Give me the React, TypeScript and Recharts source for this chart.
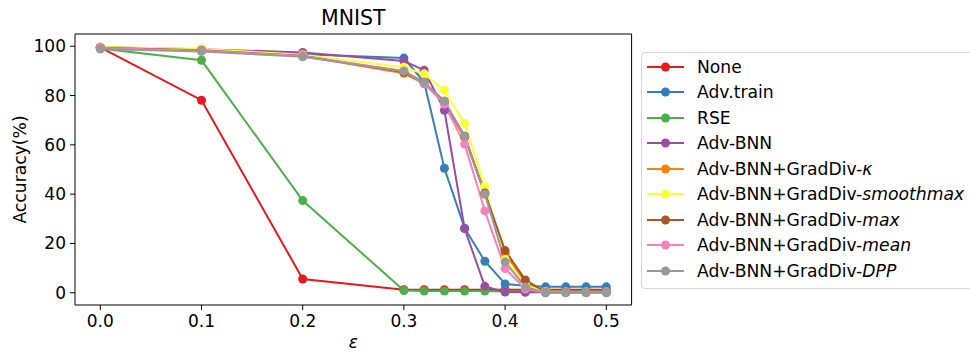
import { Line, LineChart, ReferenceLine, XAxis, YAxis } from 'recharts'

// perturbation budgets on the x axis
const eps = [0, 0.1, 0.2, 0.3, 0.32, 0.34, 0.36, 0.38, 0.4, 0.42, 0.44, 0.46, 0.48, 0.5]

// accuracy (%) per defence, one value per epsilon
const none = [99.5, 78.1, 5.6, 1.2, 1.2, 1.2, 1.2, 1.2, 1.2, 1.2, 1.2, 1.2, 1.2, 1.2]
const advTrain = [99.6, 98.6, 96.8, 95.2, 85.5, 50.5, 26.2, 12.8, 3.6, 2.8, 2.4, 2.4, 2.4, 2.4]
const rse = [99.1, 94.3, 37.4, 0.9, 0.7, 0.7, 0.7, 0.7, 0.5, 0.5, 0.5, 0.5, 0.5, 0.5]
const advBnn = [99.6, 98.8, 97.5, 94.0, 90.3, 74.0, 26.0, 2.6, 0.3, 0.2, 0.2, 0.2, 0.2, 0.2]
const gdKappa = [99.5, 98.5, 96.0, 89.0, 84.8, 77.0, 63.0, 40.0, 16.0, 4.3, 0.5, 0.3, 0.3, 0.3]
const gdSmoothmax = [99.7, 98.9, 96.6, 91.5, 88.8, 82.1, 68.7, 43.0, 13.5, 3.0, 0.5, 0.3, 0.3, 0.3]
const gdMax = [99.4, 98.4, 96.1, 89.5, 85.3, 77.5, 63.5, 40.5, 17.1, 5.2, 0.3, 0.2, 0.2, 0.2]
const gdMean = [99.3, 98.2, 96.0, 90.0, 85.0, 76.5, 60.3, 33.2, 9.8, 1.5, 0.1, 0.1, 0.1, 0.1]
const gdDpp = [98.9, 97.9, 95.7, 89.9, 85.5, 77.8, 63.5, 40.1, 12.5, 2.3, 0.0, 0.0, 0.0, 0.0]

const xTicks = [0, 0.1, 0.2, 0.3, 0.4, 0.5]
const yTicks = [0, 20, 40, 60, 80, 100]

const series = [
  { key: 'none', name: 'None', suffix: '', color: '#e41a1c', values: none },
  { key: 'advTrain', name: 'Adv.train', suffix: '', color: '#377eb8', values: advTrain },
  { key: 'rse', name: 'RSE', suffix: '', color: '#4daf4a', values: rse },
  { key: 'advBnn', name: 'Adv-BNN', suffix: '', color: '#984ea3', values: advBnn },
  { key: 'gdKappa', name: 'Adv-BNN+GradDiv-', suffix: 'κ', color: '#ff7f00', values: gdKappa },
  { key: 'gdSmoothmax', name: 'Adv-BNN+GradDiv-', suffix: 'smoothmax', color: '#ffff33', values: gdSmoothmax },
  { key: 'gdMax', name: 'Adv-BNN+GradDiv-', suffix: 'max', color: '#a65628', values: gdMax },
  { key: 'gdMean', name: 'Adv-BNN+GradDiv-', suffix: 'mean', color: '#f781bf', values: gdMean },
  { key: 'gdDpp', name: 'Adv-BNN+GradDiv-', suffix: 'DPP', color: '#999999', values: gdDpp },
]

const data = eps.map((e, i) => {
  const row: Record<string, number> = { eps: e }
  series.forEach((s) => { row[s.key] = s.values[i] })
  return row
})

const X_MIN = -0.025
const X_MAX = 0.525
const Y_MIN = -4.97
const Y_MAX = 104.97

const font = '"DejaVu Sans", sans-serif'
const tickStyle = { fill: '#000', fontSize: 17, fontFamily: font }

// matplotlib-style legend box, sits to the right of the axes
function LegendBox() {
  return (
    <div style={{ position: 'absolute', left: 641, top: 52, border: '1px solid #d6d6d6', borderRadius: 4, background: 'rgba(255,255,255,0.8)', padding: '1px 0 4px 5px', width: 340, fontFamily: font, fontSize: 17.2, color: '#000' }}>
      {series.map((s) => (
        <div key={s.key} style={{ display: 'flex', alignItems: 'center', height: 25.5 }}>
          <svg width={37} height={12} style={{ marginRight: 13 }}>
            <line x1={0} y1={6} x2={37} y2={6} stroke={s.color} strokeWidth={2} />
            <circle cx={18.5} cy={6} r={4.5} fill={s.color} />
          </svg>
          <span style={{ whiteSpace: 'nowrap' }}>
            {s.name}
            {s.suffix && <i>{s.suffix}</i>}
          </span>
        </div>
      ))}
    </div>
  )
}

export default function App() {
  return (
    <div style={{ position: 'absolute', left: 0, top: 0, width: 970, height: 352, overflow: 'hidden', background: '#fff' }}>
      <div style={{ position: 'absolute', left: 75, width: 556.6, top: 6, textAlign: 'center', fontFamily: font, fontSize: 20.5, color: '#000' }}>
        MNIST
      </div>
      <LineChart width={970} height={352} data={data} margin={{ top: 34, right: 338.4, bottom: 0, left: 0 }}>
        <XAxis
          dataKey="eps"
          type="number"
          domain={[X_MIN, X_MAX]}
          ticks={xTicks}
          allowDataOverflow
          tickFormatter={(v: number) => v.toFixed(1)}
          height={47}
          tickSize={5}
          tickMargin={5}
          stroke="#000"
          tick={tickStyle}
          label={{ value: 'ε', position: 'insideBottom', offset: 4, style: { fontFamily: font, fontSize: 17, fontStyle: 'italic', fill: '#000' } }}
        />
        <YAxis
          type="number"
          domain={[Y_MIN, Y_MAX]}
          ticks={yTicks}
          allowDataOverflow
          width={75}
          tickSize={5}
          tickMargin={4}
          stroke="#000"
          tick={tickStyle}
          label={{ value: 'Accuracy(%)', angle: -90, position: 'insideLeft', offset: 20, style: { textAnchor: 'middle', fontFamily: font, fontSize: 17.2, fill: '#000' } }}
        />
        <ReferenceLine y={Y_MAX} stroke="#000" />
        <ReferenceLine x={X_MAX} stroke="#000" />
        {series.map((s) => (
          <Line
            key={s.key}
            dataKey={s.key}
            name={s.name + s.suffix}
            stroke={s.color}
            strokeWidth={2}
            dot={{ r: 4.5, fill: s.color, stroke: s.color, strokeWidth: 0 }}
            activeDot={false}
            isAnimationActive={false}
          />
        ))}
      </LineChart>
      <LegendBox />
    </div>
  )
}
